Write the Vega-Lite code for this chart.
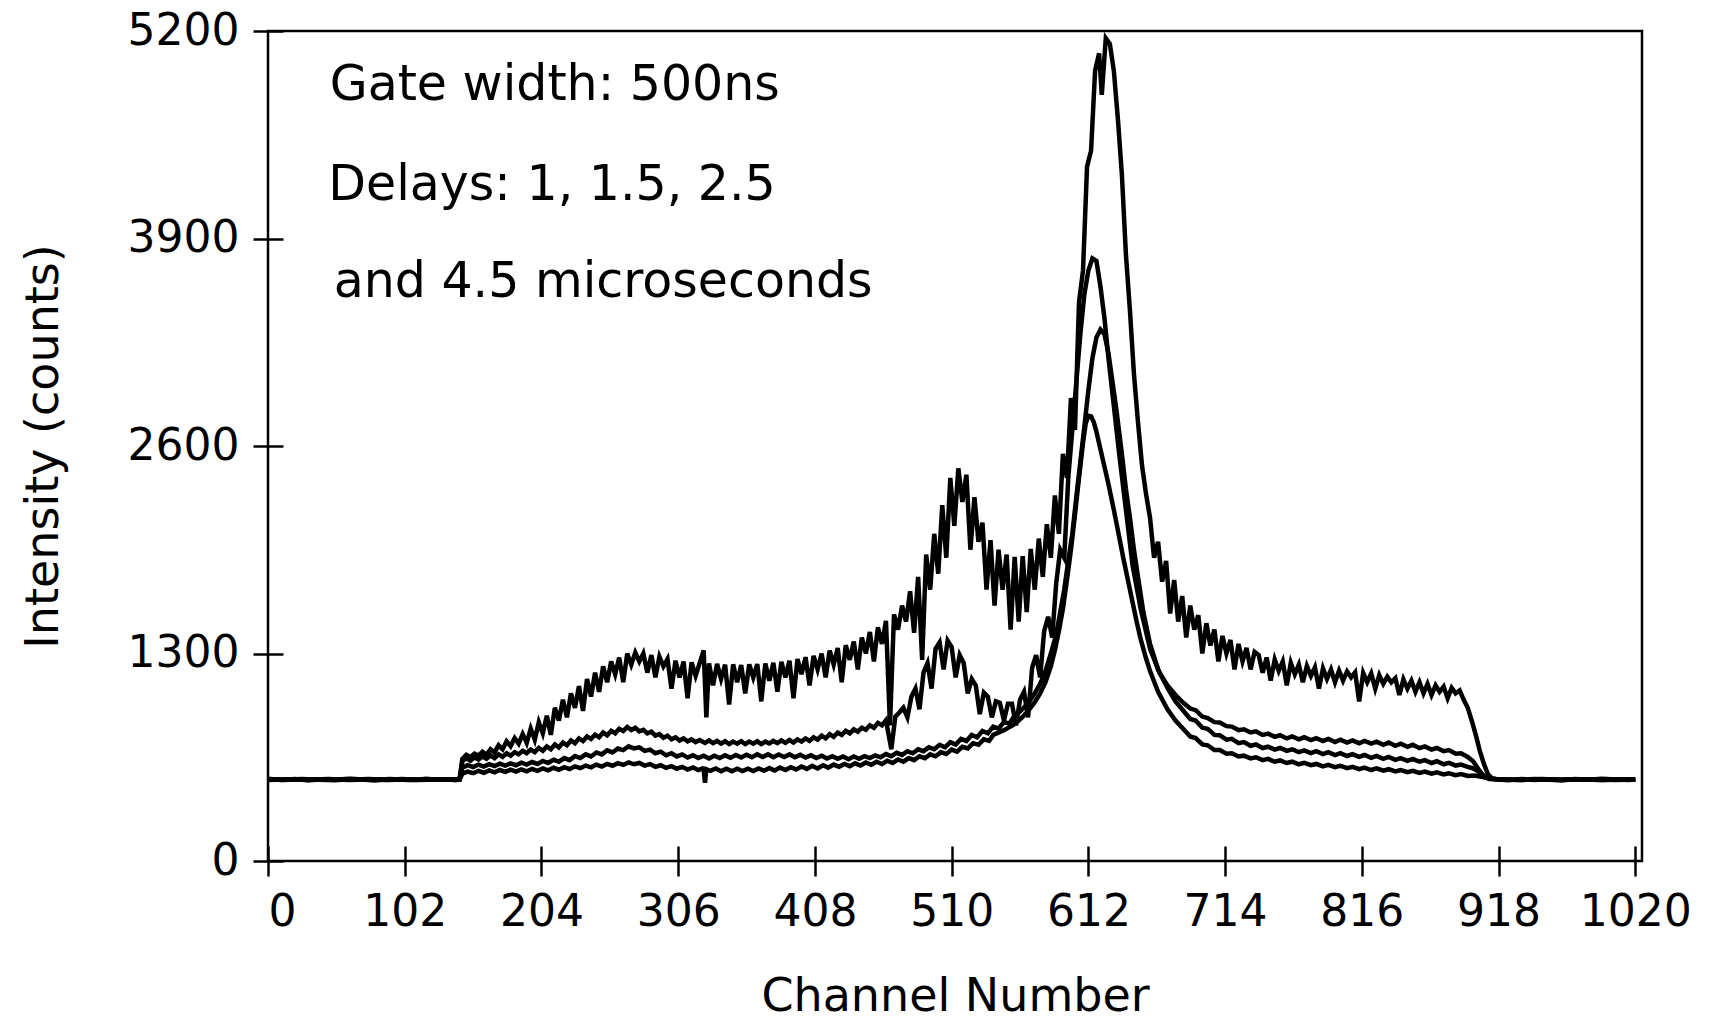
{
"$schema": "https://vega.github.io/schema/vega-lite/v6.json",
"width": 1374, "height": 830,
"autosize": {"type": "none"},
"padding": {"left": 268, "top": 31, "right": 74, "bottom": 163},
"background": "white",
"config": {
  "font": "DejaVu Sans",
  "view": {"stroke": "black", "strokeWidth": 2.5},
  "axis": {"domain": false, "grid": false, "tickColor": "black", "tickWidth": 2.5, "tickSize": 30, "offset": -15,
           "labelColor": "black", "titleColor": "black", "labelFont": "DejaVu Sans", "titleFont": "DejaVu Sans",
           "labelFontSize": 44, "titleFontSize": 46, "titleFontWeight": "normal", "format": "d"}
},
"datasets": {
"A": [{"c":0,"v":515},{"c":10,"v":508},{"c":20,"v":514},{"c":30,"v":506},{"c":40,"v":512},{"c":50,"v":509},{"c":60,"v":516},{"c":70,"v":510},{"c":80,"v":505},{"c":90,"v":513},{"c":100,"v":511},{"c":110,"v":507},{"c":118,"v":515},{"c":126,"v":509},{"c":134,"v":512},{"c":140,"v":506},{"c":143,"v":520},{"c":145,"v":640},{"c":148,"v":665},{"c":151,"v":650},{"c":154,"v":672},{"c":157,"v":660},{"c":160,"v":685},{"c":163,"v":665},{"c":166,"v":700},{"c":169,"v":680},{"c":172,"v":725},{"c":175,"v":700},{"c":178,"v":750},{"c":181,"v":720},{"c":184,"v":770},{"c":187,"v":735},{"c":190,"v":795},{"c":193,"v":740},{"c":196,"v":830},{"c":199,"v":760},{"c":202,"v":870},{"c":205,"v":800},{"c":208,"v":910},{"c":211,"v":790},{"c":214,"v":960},{"c":217,"v":880},{"c":220,"v":1010},{"c":223,"v":900},{"c":226,"v":1050},{"c":229,"v":960},{"c":232,"v":1095},{"c":235,"v":940},{"c":238,"v":1140},{"c":241,"v":1030},{"c":244,"v":1180},{"c":247,"v":1060},{"c":250,"v":1220},{"c":253,"v":1120},{"c":256,"v":1250},{"c":259,"v":1170},{"c":262,"v":1275},{"c":265,"v":1120},{"c":268,"v":1300},{"c":271,"v":1230},{"c":274,"v":1305},{"c":277,"v":1250},{"c":280,"v":1300},{"c":283,"v":1180},{"c":286,"v":1290},{"c":289,"v":1150},{"c":292,"v":1280},{"c":295,"v":1220},{"c":298,"v":1265},{"c":301,"v":1080},{"c":304,"v":1255},{"c":307,"v":1150},{"c":310,"v":1250},{"c":313,"v":1020},{"c":316,"v":1245},{"c":319,"v":1160},{"c":322,"v":1240},{"c":325,"v":1320},{"c":327,"v":900},{"c":329,"v":1238},{"c":332,"v":1100},{"c":335,"v":1235},{"c":338,"v":1140},{"c":341,"v":1230},{"c":344,"v":980},{"c":347,"v":1232},{"c":350,"v":1120},{"c":353,"v":1228},{"c":356,"v":1050},{"c":359,"v":1232},{"c":362,"v":1150},{"c":365,"v":1234},{"c":368,"v":1000},{"c":371,"v":1238},{"c":374,"v":1130},{"c":377,"v":1242},{"c":380,"v":1060},{"c":383,"v":1248},{"c":386,"v":1150},{"c":389,"v":1255},{"c":392,"v":1020},{"c":395,"v":1265},{"c":398,"v":1170},{"c":401,"v":1277},{"c":404,"v":1100},{"c":407,"v":1285},{"c":410,"v":1200},{"c":413,"v":1300},{"c":416,"v":1150},{"c":419,"v":1318},{"c":422,"v":1230},{"c":425,"v":1335},{"c":428,"v":1120},{"c":431,"v":1352},{"c":434,"v":1260},{"c":437,"v":1375},{"c":440,"v":1200},{"c":443,"v":1400},{"c":446,"v":1300},{"c":449,"v":1435},{"c":452,"v":1250},{"c":455,"v":1465},{"c":458,"v":1360},{"c":461,"v":1505},{"c":464,"v":850},{"c":467,"v":1545},{"c":470,"v":1450},{"c":473,"v":1600},{"c":476,"v":1500},{"c":479,"v":1690},{"c":482,"v":1430},{"c":485,"v":1780},{"c":488,"v":1260},{"c":491,"v":1920},{"c":494,"v":1700},{"c":497,"v":2050},{"c":500,"v":1800},{"c":503,"v":2230},{"c":506,"v":1900},{"c":509,"v":2400},{"c":512,"v":2100},{"c":515,"v":2460},{"c":518,"v":2250},{"c":521,"v":2420},{"c":524,"v":1950},{"c":527,"v":2280},{"c":530,"v":2000},{"c":533,"v":2120},{"c":536,"v":1700},{"c":539,"v":2010},{"c":542,"v":1600},{"c":545,"v":1950},{"c":548,"v":1700},{"c":551,"v":1920},{"c":554,"v":1450},{"c":557,"v":1905},{"c":560,"v":1500},{"c":563,"v":1910},{"c":566,"v":1560},{"c":569,"v":1955},{"c":572,"v":1700},{"c":575,"v":2020},{"c":578,"v":1780},{"c":581,"v":2110},{"c":584,"v":1900},{"c":587,"v":2290},{"c":590,"v":2050},{"c":593,"v":2550},{"c":596,"v":2400},{"c":599,"v":2900},{"c":602,"v":2700},{"c":605,"v":3500},{"c":608,"v":3700},{"c":611,"v":4350},{"c":614,"v":4450},{"c":617,"v":4950},{"c":620,"v":5060},{"c":622,"v":4800},{"c":625,"v":5155},{"c":628,"v":5120},{"c":631,"v":4950},{"c":634,"v":4650},{"c":637,"v":4300},{"c":640,"v":3800},{"c":643,"v":3450},{"c":646,"v":3050},{"c":649,"v":2750},{"c":652,"v":2480},{"c":655,"v":2300},{"c":658,"v":2150},{"c":661,"v":1900},{"c":664,"v":2000},{"c":667,"v":1750},{"c":670,"v":1880},{"c":673,"v":1550},{"c":676,"v":1760},{"c":679,"v":1500},{"c":682,"v":1660},{"c":685,"v":1400},{"c":688,"v":1600},{"c":691,"v":1450},{"c":694,"v":1540},{"c":697,"v":1300},{"c":700,"v":1490},{"c":703,"v":1350},{"c":706,"v":1450},{"c":709,"v":1250},{"c":712,"v":1410},{"c":715,"v":1300},{"c":718,"v":1385},{"c":721,"v":1200},{"c":724,"v":1360},{"c":727,"v":1250},{"c":730,"v":1335},{"c":733,"v":1200},{"c":736,"v":1310},{"c":739,"v":1290},{"c":742,"v":1180},{"c":745,"v":1275},{"c":748,"v":1130},{"c":751,"v":1262},{"c":754,"v":1190},{"c":757,"v":1250},{"c":760,"v":1100},{"c":763,"v":1242},{"c":766,"v":1170},{"c":769,"v":1230},{"c":772,"v":1120},{"c":775,"v":1222},{"c":778,"v":1160},{"c":781,"v":1214},{"c":784,"v":1080},{"c":787,"v":1207},{"c":790,"v":1140},{"c":793,"v":1200},{"c":796,"v":1120},{"c":799,"v":1193},{"c":802,"v":1130},{"c":805,"v":1188},{"c":808,"v":1150},{"c":811,"v":1182},{"c":814,"v":1000},{"c":817,"v":1178},{"c":820,"v":1120},{"c":823,"v":1175},{"c":826,"v":1080},{"c":829,"v":1165},{"c":832,"v":1110},{"c":835,"v":1155},{"c":838,"v":1120},{"c":841,"v":1145},{"c":844,"v":1040},{"c":847,"v":1138},{"c":850,"v":1080},{"c":853,"v":1130},{"c":856,"v":1060},{"c":859,"v":1120},{"c":862,"v":1050},{"c":865,"v":1110},{"c":868,"v":1040},{"c":871,"v":1100},{"c":874,"v":1060},{"c":877,"v":1092},{"c":880,"v":1020},{"c":883,"v":1085},{"c":886,"v":1050},{"c":889,"v":1068},{"c":892,"v":1010},{"c":895,"v":960},{"c":898,"v":880},{"c":901,"v":790},{"c":904,"v":690},{"c":907,"v":610},{"c":910,"v":545},{"c":913,"v":518},{"c":918,"v":510},{"c":925,"v":506},{"c":935,"v":514},{"c":945,"v":508},{"c":955,"v":512},{"c":965,"v":505},{"c":975,"v":513},{"c":985,"v":509},{"c":995,"v":516},{"c":1005,"v":510},{"c":1015,"v":507},{"c":1020,"v":512}],
"B": [{"c":0,"v":512},{"c":12,"v":507},{"c":25,"v":513},{"c":38,"v":509},{"c":50,"v":506},{"c":62,"v":514},{"c":75,"v":510},{"c":88,"v":507},{"c":100,"v":513},{"c":112,"v":508},{"c":125,"v":511},{"c":136,"v":509},{"c":143,"v":512},{"c":145,"v":625},{"c":148,"v":645},{"c":151,"v":628},{"c":154,"v":650},{"c":157,"v":635},{"c":160,"v":655},{"c":163,"v":640},{"c":166,"v":662},{"c":169,"v":645},{"c":172,"v":668},{"c":175,"v":652},{"c":178,"v":675},{"c":181,"v":660},{"c":184,"v":682},{"c":187,"v":668},{"c":190,"v":690},{"c":193,"v":675},{"c":196,"v":698},{"c":199,"v":682},{"c":202,"v":708},{"c":205,"v":690},{"c":208,"v":718},{"c":211,"v":700},{"c":214,"v":730},{"c":217,"v":712},{"c":220,"v":742},{"c":223,"v":725},{"c":226,"v":755},{"c":229,"v":738},{"c":232,"v":768},{"c":235,"v":752},{"c":238,"v":780},{"c":241,"v":765},{"c":244,"v":792},{"c":247,"v":775},{"c":250,"v":805},{"c":253,"v":788},{"c":256,"v":815},{"c":259,"v":800},{"c":262,"v":828},{"c":265,"v":815},{"c":268,"v":840},{"c":271,"v":820},{"c":274,"v":835},{"c":277,"v":812},{"c":280,"v":822},{"c":283,"v":800},{"c":286,"v":810},{"c":289,"v":785},{"c":292,"v":795},{"c":295,"v":772},{"c":298,"v":785},{"c":301,"v":762},{"c":304,"v":775},{"c":307,"v":755},{"c":310,"v":768},{"c":313,"v":750},{"c":316,"v":762},{"c":319,"v":745},{"c":322,"v":758},{"c":326,"v":740},{"c":329,"v":755},{"c":332,"v":738},{"c":335,"v":752},{"c":338,"v":735},{"c":341,"v":750},{"c":344,"v":732},{"c":347,"v":748},{"c":350,"v":735},{"c":353,"v":750},{"c":356,"v":732},{"c":359,"v":748},{"c":362,"v":735},{"c":365,"v":750},{"c":368,"v":733},{"c":371,"v":748},{"c":374,"v":736},{"c":377,"v":752},{"c":380,"v":738},{"c":383,"v":755},{"c":386,"v":740},{"c":389,"v":758},{"c":392,"v":742},{"c":395,"v":762},{"c":398,"v":748},{"c":401,"v":768},{"c":404,"v":752},{"c":407,"v":775},{"c":410,"v":760},{"c":413,"v":785},{"c":416,"v":768},{"c":419,"v":795},{"c":422,"v":778},{"c":425,"v":805},{"c":428,"v":790},{"c":431,"v":815},{"c":434,"v":800},{"c":437,"v":825},{"c":440,"v":810},{"c":443,"v":835},{"c":446,"v":822},{"c":449,"v":850},{"c":452,"v":835},{"c":455,"v":865},{"c":458,"v":850},{"c":461,"v":882},{"c":465,"v":700},{"c":468,"v":905},{"c":471,"v":930},{"c":474,"v":960},{"c":477,"v":900},{"c":480,"v":1030},{"c":483,"v":1080},{"c":486,"v":950},{"c":489,"v":1180},{"c":492,"v":1240},{"c":495,"v":1080},{"c":498,"v":1330},{"c":501,"v":1370},{"c":504,"v":1200},{"c":507,"v":1380},{"c":510,"v":1340},{"c":513,"v":1150},{"c":516,"v":1290},{"c":519,"v":1240},{"c":522,"v":1050},{"c":525,"v":1140},{"c":528,"v":1100},{"c":531,"v":920},{"c":534,"v":1055},{"c":537,"v":1030},{"c":540,"v":900},{"c":543,"v":1000},{"c":546,"v":990},{"c":549,"v":880},{"c":552,"v":985},{"c":555,"v":985},{"c":558,"v":850},{"c":561,"v":1010},{"c":564,"v":1060},{"c":567,"v":900},{"c":570,"v":1210},{"c":573,"v":1290},{"c":576,"v":1150},{"c":579,"v":1440},{"c":582,"v":1530},{"c":585,"v":1400},{"c":588,"v":1740},{"c":591,"v":1950},{"c":594,"v":1900},{"c":597,"v":2400},{"c":600,"v":2700},{"c":603,"v":3000},{"c":606,"v":3300},{"c":609,"v":3550},{"c":612,"v":3700},{"c":615,"v":3775},{"c":618,"v":3760},{"c":621,"v":3600},{"c":624,"v":3400},{"c":627,"v":3150},{"c":631,"v":2850},{"c":635,"v":2550},{"c":640,"v":2200},{"c":645,"v":1850},{"c":651,"v":1580},{"c":658,"v":1330},{"c":665,"v":1180},{"c":671,"v":1100},{"c":677,"v":1040},{"c":683,"v":990},{"c":688,"v":955},{"c":692,"v":945},{"c":697,"v":905},{"c":701,"v":895},{"c":706,"v":870},{"c":710,"v":868},{"c":715,"v":845},{"c":719,"v":842},{"c":724,"v":820},{"c":728,"v":825},{"c":733,"v":805},{"c":737,"v":812},{"c":742,"v":790},{"c":746,"v":798},{"c":751,"v":778},{"c":755,"v":788},{"c":760,"v":768},{"c":764,"v":780},{"c":769,"v":762},{"c":773,"v":775},{"c":778,"v":757},{"c":782,"v":770},{"c":787,"v":752},{"c":791,"v":765},{"c":796,"v":745},{"c":800,"v":760},{"c":805,"v":742},{"c":809,"v":755},{"c":814,"v":738},{"c":818,"v":752},{"c":823,"v":735},{"c":827,"v":748},{"c":832,"v":728},{"c":836,"v":742},{"c":841,"v":722},{"c":845,"v":735},{"c":850,"v":715},{"c":854,"v":728},{"c":859,"v":707},{"c":863,"v":718},{"c":868,"v":698},{"c":872,"v":708},{"c":877,"v":688},{"c":881,"v":695},{"c":886,"v":672},{"c":890,"v":675},{"c":895,"v":652},{"c":899,"v":625},{"c":903,"v":575},{"c":907,"v":530},{"c":911,"v":514},{"c":920,"v":511},{"c":935,"v":508},{"c":950,"v":513},{"c":965,"v":509},{"c":980,"v":512},{"c":995,"v":507},{"c":1010,"v":511},{"c":1020,"v":509}],
"C": [{"c":0,"v":510},{"c":15,"v":512},{"c":30,"v":507},{"c":45,"v":511},{"c":60,"v":509},{"c":75,"v":513},{"c":90,"v":508},{"c":105,"v":512},{"c":120,"v":509},{"c":135,"v":511},{"c":143,"v":511},{"c":145,"v":585},{"c":149,"v":600},{"c":153,"v":588},{"c":157,"v":604},{"c":161,"v":592},{"c":165,"v":607},{"c":169,"v":595},{"c":173,"v":610},{"c":177,"v":598},{"c":181,"v":612},{"c":185,"v":600},{"c":189,"v":616},{"c":193,"v":604},{"c":197,"v":620},{"c":201,"v":608},{"c":205,"v":627},{"c":209,"v":614},{"c":213,"v":635},{"c":217,"v":622},{"c":221,"v":645},{"c":225,"v":632},{"c":229,"v":657},{"c":233,"v":645},{"c":237,"v":668},{"c":241,"v":655},{"c":245,"v":680},{"c":249,"v":668},{"c":253,"v":693},{"c":257,"v":680},{"c":261,"v":705},{"c":265,"v":695},{"c":269,"v":718},{"c":273,"v":705},{"c":277,"v":712},{"c":281,"v":690},{"c":285,"v":698},{"c":289,"v":675},{"c":293,"v":685},{"c":297,"v":662},{"c":301,"v":675},{"c":305,"v":655},{"c":309,"v":668},{"c":313,"v":648},{"c":317,"v":662},{"c":321,"v":645},{"c":325,"v":660},{"c":329,"v":642},{"c":333,"v":660},{"c":337,"v":645},{"c":341,"v":662},{"c":345,"v":647},{"c":349,"v":664},{"c":353,"v":648},{"c":357,"v":666},{"c":361,"v":650},{"c":365,"v":668},{"c":369,"v":652},{"c":373,"v":668},{"c":377,"v":650},{"c":381,"v":667},{"c":385,"v":652},{"c":389,"v":668},{"c":393,"v":650},{"c":397,"v":665},{"c":401,"v":648},{"c":405,"v":662},{"c":409,"v":645},{"c":413,"v":660},{"c":417,"v":642},{"c":421,"v":657},{"c":425,"v":640},{"c":429,"v":655},{"c":433,"v":638},{"c":437,"v":655},{"c":441,"v":640},{"c":445,"v":657},{"c":449,"v":645},{"c":453,"v":662},{"c":457,"v":650},{"c":461,"v":670},{"c":465,"v":657},{"c":469,"v":678},{"c":473,"v":665},{"c":477,"v":688},{"c":481,"v":675},{"c":485,"v":700},{"c":489,"v":688},{"c":493,"v":712},{"c":497,"v":700},{"c":501,"v":728},{"c":505,"v":712},{"c":509,"v":745},{"c":513,"v":730},{"c":517,"v":765},{"c":521,"v":752},{"c":525,"v":790},{"c":529,"v":775},{"c":533,"v":815},{"c":537,"v":800},{"c":541,"v":842},{"c":545,"v":830},{"c":549,"v":870},{"c":553,"v":860},{"c":556,"v":900},{"c":562,"v":945},{"c":567,"v":990},{"c":572,"v":1050},{"c":576,"v":1110},{"c":580,"v":1190},{"c":584,"v":1300},{"c":588,"v":1420},{"c":591,"v":1560},{"c":594,"v":1700},{"c":597,"v":1880},{"c":600,"v":2050},{"c":603,"v":2280},{"c":606,"v":2500},{"c":609,"v":2720},{"c":612,"v":2950},{"c":615,"v":3150},{"c":618,"v":3280},{"c":621,"v":3330},{"c":624,"v":3300},{"c":627,"v":3180},{"c":630,"v":3000},{"c":633,"v":2820},{"c":637,"v":2550},{"c":640,"v":2330},{"c":643,"v":2150},{"c":646,"v":1950},{"c":649,"v":1780},{"c":653,"v":1560},{"c":658,"v":1360},{"c":664,"v":1200},{"c":671,"v":1085},{"c":677,"v":1000},{"c":683,"v":940},{"c":688,"v":890},{"c":692,"v":880},{"c":697,"v":835},{"c":701,"v":828},{"c":706,"v":790},{"c":710,"v":788},{"c":715,"v":760},{"c":719,"v":765},{"c":724,"v":738},{"c":728,"v":745},{"c":733,"v":722},{"c":737,"v":730},{"c":742,"v":708},{"c":746,"v":716},{"c":751,"v":698},{"c":755,"v":708},{"c":760,"v":690},{"c":764,"v":700},{"c":769,"v":682},{"c":773,"v":693},{"c":778,"v":676},{"c":782,"v":688},{"c":787,"v":670},{"c":791,"v":682},{"c":796,"v":664},{"c":800,"v":676},{"c":805,"v":658},{"c":809,"v":670},{"c":814,"v":652},{"c":818,"v":664},{"c":823,"v":646},{"c":827,"v":658},{"c":832,"v":640},{"c":836,"v":652},{"c":841,"v":634},{"c":845,"v":645},{"c":850,"v":628},{"c":854,"v":640},{"c":859,"v":622},{"c":863,"v":632},{"c":868,"v":614},{"c":872,"v":625},{"c":877,"v":606},{"c":881,"v":615},{"c":886,"v":598},{"c":890,"v":604},{"c":895,"v":590},{"c":899,"v":580},{"c":902,"v":566},{"c":906,"v":540},{"c":910,"v":520},{"c":916,"v":512},{"c":930,"v":509},{"c":945,"v":513},{"c":960,"v":508},{"c":975,"v":512},{"c":990,"v":510},{"c":1005,"v":507},{"c":1020,"v":511}],
"D": [{"c":0,"v":508},{"c":15,"v":511},{"c":30,"v":509},{"c":45,"v":513},{"c":60,"v":507},{"c":75,"v":510},{"c":90,"v":512},{"c":105,"v":508},{"c":120,"v":511},{"c":135,"v":509},{"c":143,"v":510},{"c":145,"v":548},{"c":149,"v":560},{"c":153,"v":550},{"c":157,"v":565},{"c":161,"v":553},{"c":165,"v":568},{"c":169,"v":556},{"c":173,"v":570},{"c":177,"v":558},{"c":181,"v":572},{"c":185,"v":560},{"c":189,"v":574},{"c":193,"v":562},{"c":197,"v":577},{"c":201,"v":565},{"c":205,"v":580},{"c":209,"v":568},{"c":213,"v":584},{"c":217,"v":572},{"c":221,"v":588},{"c":225,"v":576},{"c":229,"v":593},{"c":233,"v":582},{"c":237,"v":598},{"c":241,"v":587},{"c":245,"v":604},{"c":249,"v":592},{"c":253,"v":608},{"c":257,"v":597},{"c":261,"v":613},{"c":265,"v":602},{"c":269,"v":618},{"c":273,"v":606},{"c":277,"v":614},{"c":281,"v":598},{"c":285,"v":607},{"c":289,"v":590},{"c":293,"v":600},{"c":297,"v":583},{"c":301,"v":594},{"c":305,"v":578},{"c":309,"v":590},{"c":313,"v":573},{"c":317,"v":586},{"c":321,"v":570},{"c":324,"v":580},{"c":325,"v":570},{"c":326,"v":490},{"c":327,"v":575},{"c":330,"v":565},{"c":334,"v":580},{"c":338,"v":563},{"c":342,"v":578},{"c":346,"v":562},{"c":350,"v":578},{"c":354,"v":563},{"c":358,"v":578},{"c":362,"v":564},{"c":366,"v":580},{"c":370,"v":565},{"c":374,"v":582},{"c":378,"v":567},{"c":382,"v":585},{"c":386,"v":570},{"c":390,"v":588},{"c":394,"v":573},{"c":398,"v":592},{"c":402,"v":577},{"c":406,"v":596},{"c":410,"v":580},{"c":414,"v":600},{"c":418,"v":585},{"c":422,"v":604},{"c":426,"v":590},{"c":430,"v":608},{"c":434,"v":594},{"c":438,"v":612},{"c":442,"v":598},{"c":446,"v":617},{"c":450,"v":603},{"c":454,"v":622},{"c":458,"v":608},{"c":462,"v":628},{"c":466,"v":614},{"c":470,"v":636},{"c":474,"v":622},{"c":478,"v":645},{"c":482,"v":632},{"c":486,"v":656},{"c":490,"v":644},{"c":494,"v":668},{"c":498,"v":656},{"c":502,"v":682},{"c":506,"v":670},{"c":510,"v":698},{"c":514,"v":685},{"c":518,"v":715},{"c":522,"v":705},{"c":526,"v":738},{"c":530,"v":728},{"c":534,"v":762},{"c":538,"v":752},{"c":541,"v":790},{"c":549,"v":820},{"c":556,"v":852},{"c":562,"v":895},{"c":567,"v":940},{"c":572,"v":995},{"c":576,"v":1050},{"c":580,"v":1120},{"c":584,"v":1220},{"c":587,"v":1320},{"c":590,"v":1440},{"c":593,"v":1580},{"c":596,"v":1760},{"c":599,"v":1950},{"c":602,"v":2170},{"c":605,"v":2400},{"c":608,"v":2620},{"c":610,"v":2740},{"c":612,"v":2790},{"c":614,"v":2785},{"c":616,"v":2750},{"c":618,"v":2690},{"c":621,"v":2580},{"c":624,"v":2470},{"c":627,"v":2360},{"c":631,"v":2200},{"c":635,"v":2030},{"c":638,"v":1900},{"c":642,"v":1740},{"c":645,"v":1620},{"c":648,"v":1500},{"c":651,"v":1390},{"c":655,"v":1270},{"c":658,"v":1190},{"c":664,"v":1060},{"c":671,"v":950},{"c":677,"v":880},{"c":683,"v":825},{"c":688,"v":780},{"c":692,"v":770},{"c":697,"v":730},{"c":701,"v":725},{"c":706,"v":695},{"c":710,"v":695},{"c":715,"v":672},{"c":719,"v":675},{"c":724,"v":655},{"c":728,"v":660},{"c":733,"v":643},{"c":737,"v":650},{"c":742,"v":632},{"c":746,"v":640},{"c":751,"v":622},{"c":755,"v":630},{"c":760,"v":614},{"c":764,"v":622},{"c":769,"v":606},{"c":773,"v":615},{"c":778,"v":600},{"c":782,"v":608},{"c":787,"v":593},{"c":791,"v":602},{"c":796,"v":588},{"c":800,"v":596},{"c":805,"v":582},{"c":809,"v":590},{"c":814,"v":576},{"c":818,"v":585},{"c":823,"v":570},{"c":827,"v":580},{"c":832,"v":566},{"c":836,"v":575},{"c":841,"v":561},{"c":845,"v":570},{"c":850,"v":557},{"c":854,"v":565},{"c":859,"v":552},{"c":863,"v":560},{"c":868,"v":547},{"c":872,"v":555},{"c":877,"v":543},{"c":881,"v":550},{"c":886,"v":538},{"c":890,"v":545},{"c":895,"v":533},{"c":900,"v":535},{"c":907,"v":525},{"c":913,"v":515},{"c":920,"v":511},{"c":935,"v":508},{"c":950,"v":512},{"c":965,"v":509},{"c":980,"v":511},{"c":995,"v":508},{"c":1010,"v":512},{"c":1020,"v":510}]
},
"layer": [
  {"data": {"name": "D"}, "mark": {"type": "line", "color": "black", "strokeWidth": 4.5},
   "encoding": {
     "x": {"field": "c", "type": "quantitative", "scale": {"domain": [0, 1025], "nice": false, "zero": false},
           "axis": {"values": [0,102,204,306,408,510,612,714,816,918,1020], "title": "Channel Number", "labelPadding": 14, "titlePadding": 40}},
     "y": {"field": "v", "type": "quantitative", "scale": {"domain": [0, 5200], "nice": false},
           "axis": {"values": [0,1300,2600,3900,5200], "title": "Intensity (counts)", "labelPadding": 14, "titlePadding": 60}}
   }},
  {"data": {"name": "C"}, "mark": {"type": "line", "color": "black", "strokeWidth": 4.5},
   "encoding": {"x": {"field": "c", "type": "quantitative"}, "y": {"field": "v", "type": "quantitative"}}},
  {"data": {"name": "B"}, "mark": {"type": "line", "color": "black", "strokeWidth": 4.5},
   "encoding": {"x": {"field": "c", "type": "quantitative"}, "y": {"field": "v", "type": "quantitative"}}},
  {"data": {"name": "A"}, "mark": {"type": "line", "color": "black", "strokeWidth": 4.5},
   "encoding": {"x": {"field": "c", "type": "quantitative"}, "y": {"field": "v", "type": "quantitative"}}},
  {"data": {"values": [{}]}, "mark": {"type": "text", "align": "left", "baseline": "alphabetic", "fontSize": 49, "color": "black", "font": "DejaVu Sans"},
   "encoding": {"x": {"datum": 46}, "y": {"datum": 4767}, "text": {"value": "Gate width: 500ns"}}},
  {"data": {"values": [{}]}, "mark": {"type": "text", "align": "left", "baseline": "alphabetic", "fontSize": 49, "color": "black", "font": "DejaVu Sans"},
   "encoding": {"x": {"datum": 45}, "y": {"datum": 4141}, "text": {"value": "Delays: 1, 1.5, 2.5"}}},
  {"data": {"values": [{}]}, "mark": {"type": "text", "align": "left", "baseline": "alphabetic", "fontSize": 49, "color": "black", "font": "DejaVu Sans"},
   "encoding": {"x": {"datum": 49}, "y": {"datum": 3533}, "text": {"value": "and 4.5 microseconds"}}}
]
}
